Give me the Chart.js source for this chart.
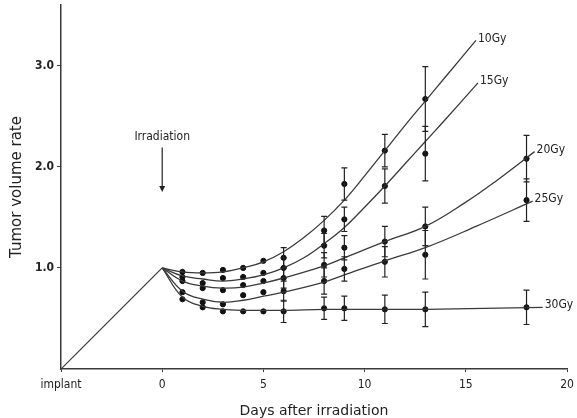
<!DOCTYPE html>
<html>
<head>
<meta charset="utf-8">
<script src="https://cdn.jsdelivr.net/npm/chart.js@4/dist/chart.umd.min.js"></script>
<style>
  html, body { margin: 0; padding: 0; background: #fff; }
  #wrap { width: 577px; height: 418px; position: relative; }
</style>
</head>
<body>
<div id="wrap"><canvas id="first"></canvas></div>
<script>
// measured points (mean, error bar half-length), days after irradiation
const measureDays = [1, 2, 3, 4, 5, 6, 8, 9, 11, 13, 18];
const mean10 = [0.96, 0.95, 0.98, 1.00, 1.07, 1.10, 1.37, 1.83, 2.16, 2.67, null];
const sd10   = [null, null, null, null, null, 0.10, 0.14, 0.16, 0.16, 0.32, null];
const mean15 = [0.91, 0.85, 0.90, 0.91, 0.95, 1.00, 1.22, 1.48, 1.81, 2.13, null];
const sd15   = [null, null, null, null, null, 0.10, 0.12, 0.12, 0.17, 0.27, null];
const mean20 = [0.87, 0.80, 0.78, 0.83, 0.87, 0.90, 1.03, 1.20, 1.26, 1.41, 2.08];
const sd20   = [null, null, null, null, null, 0.10, 0.12, 0.12, 0.15, 0.19, 0.23];
const mean25 = [0.76, 0.66, 0.64, 0.73, 0.76, 0.77, 0.87, 0.99, 1.06, 1.13, 1.67];
const sd25   = [null, null, null, null, null, 0.10, 0.13, 0.12, 0.15, 0.24, 0.21];
const mean30 = [0.69, 0.61, 0.57, 0.57, 0.57, 0.57, 0.60, 0.60, 0.59, 0.59, 0.61];
const sd30   = [null, null, null, null, null, 0.11, 0.11, 0.12, 0.14, 0.17, 0.17];

// fitted growth curves
const curveX10 = [0, 1, 2, 3, 4, 5, 6, 7, 8, 9, 10, 11, 12, 13, 14, 15.5];
const curveY10 = [1.00, 0.96, 0.95, 0.96, 1.00, 1.06, 1.16, 1.30, 1.47, 1.67, 1.91, 2.16, 2.41, 2.65, 2.89, 3.25];
const curveX15 = [0, 1, 2, 3, 4, 5, 6, 7, 8, 9, 10, 11, 12, 13, 14, 15.6];
const curveY15 = [1.00, 0.92, 0.89, 0.87, 0.89, 0.93, 1.00, 1.10, 1.24, 1.40, 1.60, 1.81, 2.03, 2.25, 2.47, 2.83];
const curveX20 = [0, 1, 2, 3, 4, 5, 6, 8, 9, 11, 13, 15, 16.5, 18.4];
const curveY20 = [1.00, 0.87, 0.82, 0.80, 0.81, 0.85, 0.90, 1.02, 1.10, 1.26, 1.41, 1.65, 1.86, 2.15];
const curveX25 = [0, 1, 2, 3, 4, 5, 6, 8, 9, 11, 13, 15.5, 18.3];
const curveY25 = [1.00, 0.77, 0.69, 0.66, 0.68, 0.72, 0.76, 0.86, 0.93, 1.07, 1.20, 1.41, 1.66];
const curveX30 = [0, 1, 2, 3, 4, 5, 6, 8, 9, 11, 13, 18.8];
const curveY30 = [1.00, 0.71, 0.62, 0.59, 0.58, 0.58, 0.58, 0.59, 0.59, 0.59, 0.59, 0.61];

const doses = ["10Gy", "15Gy", "20Gy", "25Gy", "30Gy"];
const implantX = [-5, 0];
const implantY = [0, 1.0];

// axis ticks
const xTicks = [-5, 0, 5, 10, 15, 20];
const xTickLabels = ["implant", "0", "5", "10", "15", "20"];
const yTicks = [1, 2, 3];

const irradiationText = "Irradiation";
const irradiationDay = 0;
const irradiationTextY = 2.30;
const arrowFrom = 2.19;
const arrowTo = 1.75;

const ink = "#3a3a3a";
const narrow = "'DejaVu Sans Condensed', 'Liberation Sans', sans-serif";

function pts(xs, ys) {
  return xs.map((d, i) => ({ x: d, y: ys[i] })).filter(p => p.y !== null);
}

const means = [mean10, mean15, mean20, mean25, mean30];
const sds = [sd10, sd15, sd20, sd25, sd30];
const curves = [[curveX10, curveY10], [curveX15, curveY15], [curveX20, curveY20], [curveX25, curveY25], [curveX30, curveY30]];

let datasets = [];
curves.forEach((c, i) => {
  datasets.push({
    label: doses[i],
    data: pts(c[0], c[1]),
    borderColor: ink,
    borderWidth: 1.3,
    pointRadius: 0,
    fill: false,
    tension: 0.4,
    doseLabel: doses[i]
  });
});
means.forEach((m, i) => {
  datasets.push({
    label: doses[i] + " mean",
    data: pts(measureDays, m),
    showLine: false,
    pointRadius: 2.6,
    pointBackgroundColor: "#111",
    pointBorderColor: "#111",
    errors: sds[i]
  });
});
datasets.push({
  label: "implant",
  data: pts(implantX, implantY),
  borderColor: ink,
  borderWidth: 1.2,
  pointRadius: 0,
  fill: false
});

const extras = {
  id: "extras",
  afterDatasetsDraw(chart) {
    const ctx = chart.ctx;
    const xs = chart.scales.x, ys = chart.scales.y;
    ctx.save();
    ctx.strokeStyle = "#222";
    ctx.lineWidth = 1.2;
    // error bars
    chart.data.datasets.forEach((ds) => {
      if (!ds.errors) return;
      ds.data.forEach((p) => {
        const k = measureDays.indexOf(p.x);
        const e = ds.errors[k];
        if (e == null) return;
        const px = xs.getPixelForValue(p.x);
        const top = ys.getPixelForValue(p.y + e);
        const bot = ys.getPixelForValue(p.y - e);
        ctx.beginPath();
        ctx.moveTo(px, top); ctx.lineTo(px, bot);
        ctx.moveTo(px - 3, top); ctx.lineTo(px + 3, top);
        ctx.moveTo(px - 3, bot); ctx.lineTo(px + 3, bot);
        ctx.stroke();
      });
    });
    // dose labels at curve ends
    ctx.fillStyle = "#222";
    ctx.font = "12px " + narrow;
    ctx.textBaseline = "middle";
    ctx.textAlign = "left";
    chart.data.datasets.forEach((ds) => {
      if (!ds.doseLabel) return;
      const last = ds.data[ds.data.length - 1];
      ctx.fillText(ds.doseLabel, xs.getPixelForValue(last.x) + 2, ys.getPixelForValue(last.y) - 2);
    });
    // irradiation arrow
    const ax = xs.getPixelForValue(irradiationDay);
    ctx.textAlign = "center";
    ctx.fillText(irradiationText, ax, ys.getPixelForValue(irradiationTextY));
    const a1 = ys.getPixelForValue(arrowFrom), a2 = ys.getPixelForValue(arrowTo);
    ctx.beginPath();
    ctx.moveTo(ax, a1); ctx.lineTo(ax, a2 - 4);
    ctx.stroke();
    ctx.beginPath();
    ctx.moveTo(ax - 3, a2 - 6); ctx.lineTo(ax + 3, a2 - 6); ctx.lineTo(ax, a2);
    ctx.closePath();
    ctx.fill();
    ctx.restore();
  }
};

let chart = new Chart("first", {
  type: "line",
  data: { datasets: datasets },
  plugins: [extras],
  options: {
    responsive: true,
    maintainAspectRatio: false,
    animation: false,
    layout: { padding: { top: 5, right: 10, left: 0, bottom: 0 } },
    plugins: {
      legend: { display: false },
      tooltip: { enabled: false }
    },
    scales: {
      x: {
        type: "linear",
        min: -5,
        max: 20,
        afterBuildTicks: (s) => { s.ticks = xTicks.map(v => ({ value: v })); },
        afterFit: (s) => { s.height = 49; s.paddingLeft = 0; s.paddingRight = 0; },
        ticks: {
          color: "#222",
          font: { family: narrow, size: 12 },
          padding: 6,
          maxRotation: 0,
          callback: (v) => xTickLabels[xTicks.indexOf(v)]
        },
        grid: { display: true, drawOnChartArea: false, tickLength: 3, color: ink },
        border: { color: ink, width: 1.5 },
        title: {
          display: true,
          text: "Days after irradiation",
          color: "#222",
          font: { family: "'DejaVu Sans', sans-serif", size: 14 },
          padding: { top: 0, bottom: -2 }
        }
      },
      y: {
        min: 0,
        max: 3.6,
        afterBuildTicks: (s) => { s.ticks = yTicks.map(v => ({ value: v })); },
        afterFit: (s) => { s.width = 61; s.paddingTop = 0; s.paddingBottom = 0; },
        ticks: {
          color: "#222",
          font: { family: narrow, size: 12, weight: "bold" },
          padding: 3,
          callback: (v) => v.toFixed(1)
        },
        grid: { display: true, drawOnChartArea: false, tickLength: 4, color: ink },
        border: { color: ink, width: 1.5 },
        title: {
          display: true,
          text: "Tumor volume rate",
          color: "#222",
          font: { family: "'DejaVu Sans', sans-serif", size: 15 },
          padding: { top: 8, bottom: 0 }
        }
      }
    }
  }
});
</script>
</body>
</html>
